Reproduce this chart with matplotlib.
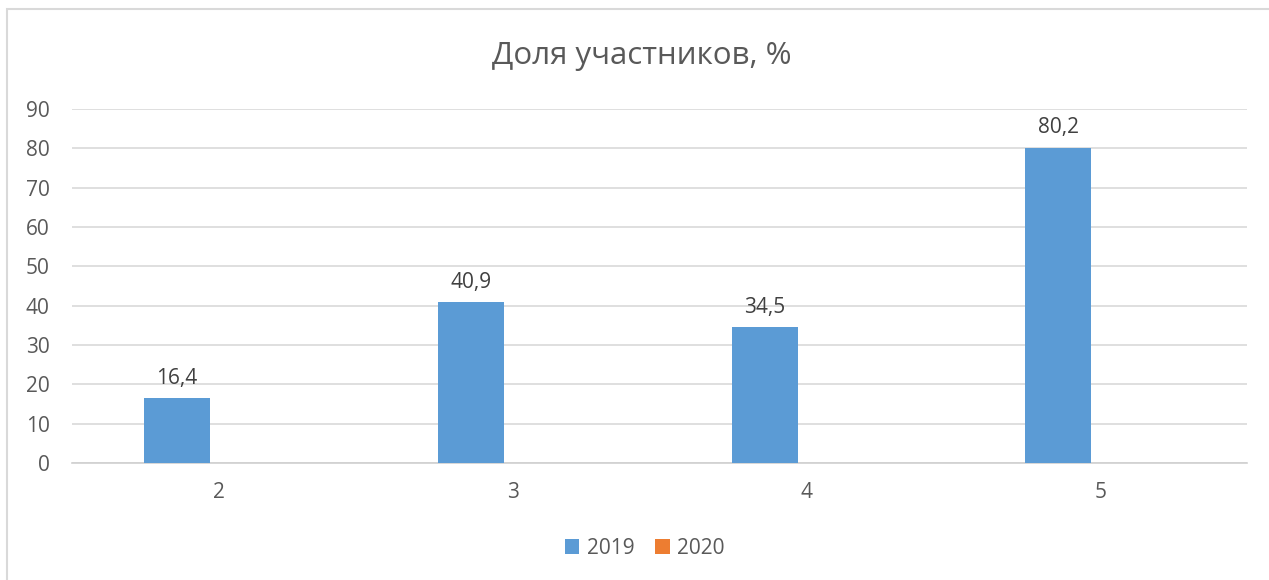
import matplotlib.pyplot as plt
import numpy as np
from matplotlib.patches import Rectangle

plt.rcParams['font.family'] = ['Open Sans', 'DejaVu Sans']

categories = ['2', '3', '4', '5']
vals_2019 = [16.4, 40.9, 34.5, 80.2]
vals_2020 = [0, 0, 0, 0]
labels_2019 = ['16,4', '40,9', '34,5', '80,2']

W, H = 1269, 580
fig = plt.figure(figsize=(W / 100, H / 100), dpi=100)

# outer chart border (only top/left visible in the crop)
fig.patches.append(Rectangle((7 / W, -0.05), 1.2, (H - 9) / H + 0.05,
                             transform=fig.transFigure, fill=False,
                             edgecolor='#d9d9d9', linewidth=1.5))

ax = fig.add_axes([72 / W, 1 - 463 / H, (1247 - 72) / W, (463 - 109) / H])

x = np.arange(len(categories))
bw = 0.225
off = 0.142
ax.bar(x - off, vals_2019, bw, color='#5b9bd5', label='2019', zorder=3)
ax.bar(x + off, vals_2020, bw, color='#ed7d31', label='2020', zorder=3)

for xi, v, t in zip(x, vals_2019, labels_2019):
    ax.text(xi - off, v + 2.3, t, ha='center', va='bottom',
            fontsize=15, color='#404040')

ax.set_xlim(-0.5, len(categories) - 0.5)
ax.set_ylim(0, 90)
ax.set_yticks(np.arange(0, 91, 10))
ax.set_xticks(x)
ax.set_xticklabels(categories)
ax.grid(axis='y', color='#d9d9d9', linewidth=1.2, zorder=0)
for s in ['top', 'right', 'left']:
    ax.spines[s].set_visible(False)
ax.spines['bottom'].set_color('#d0d0d0')
ax.spines['bottom'].set_linewidth(1.2)
ax.tick_params(length=0, labelsize=15, colors='#595959')
ax.tick_params(axis='y', pad=16)
ax.tick_params(axis='x', pad=14)

fig.text(0.506, 1 - 56 / H, 'Доля участников, %', ha='center', va='center',
         fontsize=22.5, color='#595959')

fig.legend(loc='center', bbox_to_anchor=(0.508, 1 - 548 / H), ncol=2,
           frameon=False, fontsize=15, handlelength=0.7, handleheight=0.7,
           handletextpad=0.35, columnspacing=1.0, labelcolor='#595959')

fig.savefig('out.png', dpi=100)
